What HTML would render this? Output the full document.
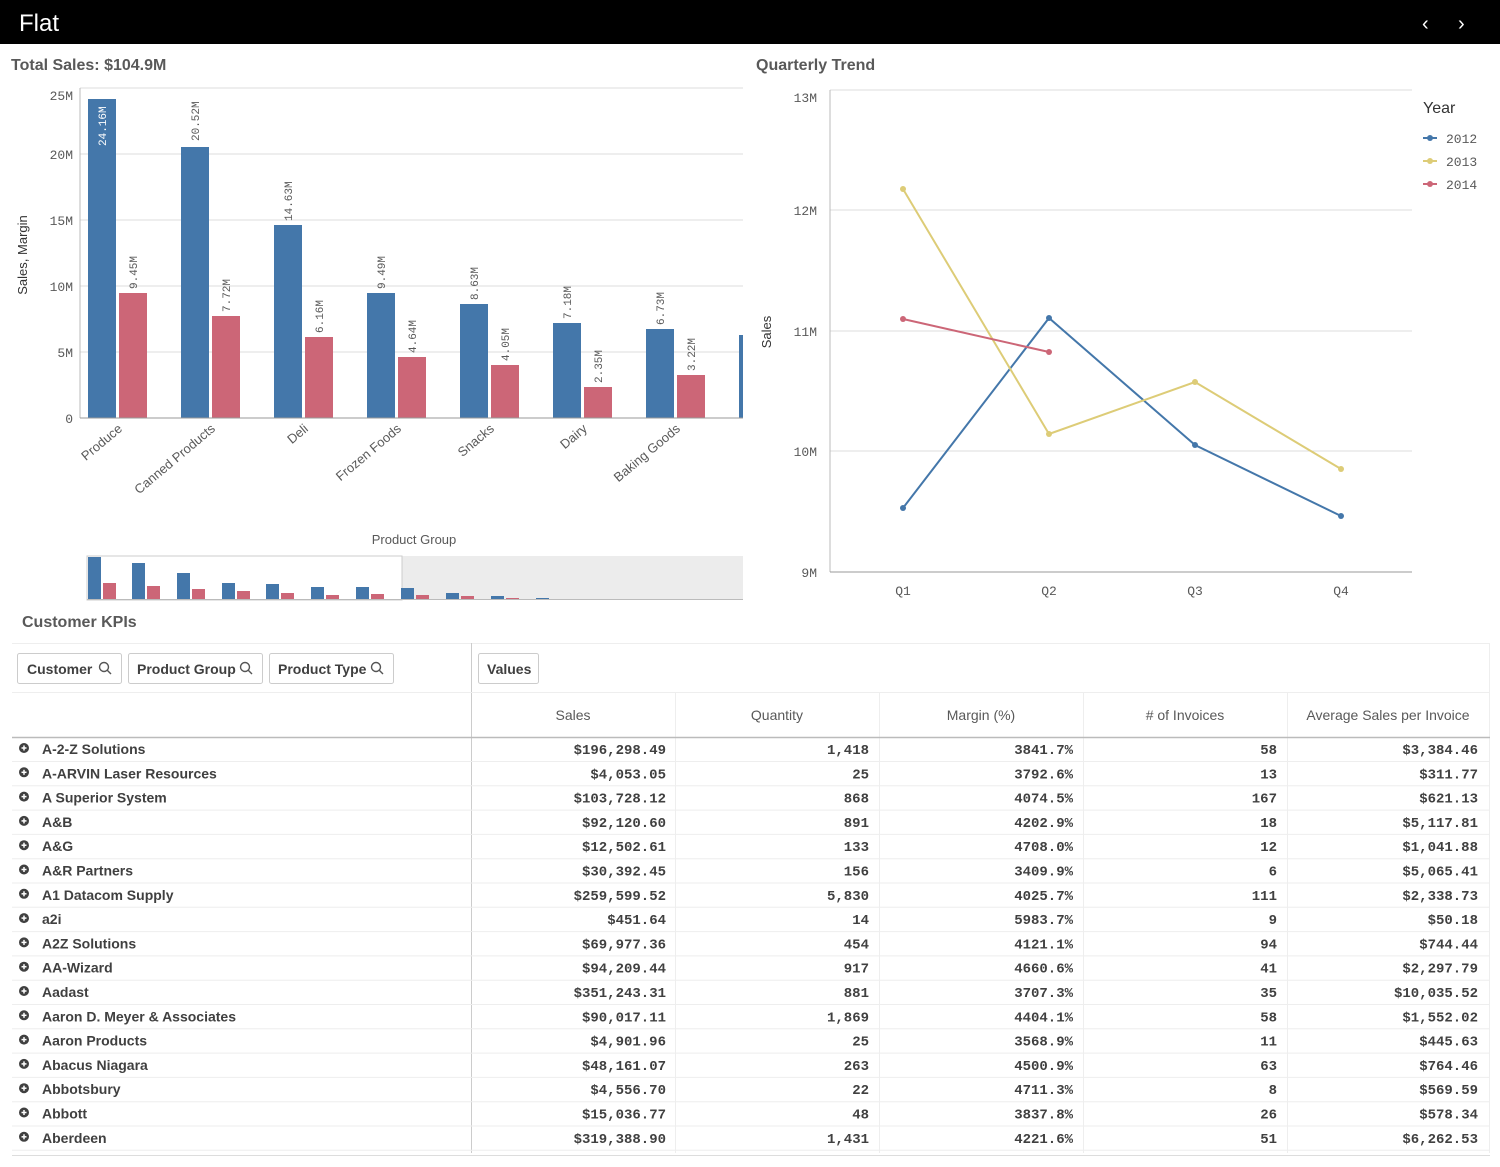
<!DOCTYPE html>
<html><head><meta charset="utf-8"><style>
html,body{margin:0;padding:0;background:#fff;width:1500px;height:1167px;overflow:hidden}
svg{display:block;font-family:"Liberation Sans",sans-serif}
.t{font-size:13px;fill:#595959}
.ax{font-family:"Liberation Mono",monospace;font-size:13px;fill:#595959}
.lbl{font-family:"Liberation Mono",monospace;font-size:11px;fill:#595959}
.r{font-size:14px;font-weight:bold;fill:#404040}
.n{font-family:"Liberation Mono",monospace;font-size:14px;font-weight:bold;fill:#404040}
.h{font-size:14px;fill:#595959}
</style></head><body>
<svg width="1500" height="1167" viewBox="0 0 1500 1167">
<rect x="0" y="0" width="1500" height="44" fill="#000"/>
<text x="19" y="31" font-size="24" fill="#fff">Flat</text>
<text x="1422" y="30" font-size="20" fill="#fff">‹</text>
<text x="1458" y="30" font-size="20" fill="#fff">›</text>
<rect x="0" y="44" width="1500" height="1123" fill="#fff"/>

<text x="11" y="70" font-size="16" font-weight="bold" fill="#595959">Total Sales: $104.9M</text>
<text x="756" y="70" font-size="16" font-weight="bold" fill="#595959">Quarterly Trend</text>

<!-- bar chart -->
<g stroke="#ddd" stroke-width="1">
<line x1="80" y1="88" x2="743" y2="88"/><line x1="80" y1="154" x2="743" y2="154"/>
<line x1="80" y1="220" x2="743" y2="220"/><line x1="80" y1="286" x2="743" y2="286"/>
<line x1="80" y1="352" x2="743" y2="352"/>
</g>
<line x1="80" y1="88" x2="80" y2="418" stroke="#bbb"/>
<g class="ax" text-anchor="end">
<text x="73" y="100">25M</text><text x="73" y="159">20M</text><text x="73" y="225">15M</text>
<text x="73" y="291">10M</text><text x="73" y="357">5M</text><text x="73" y="423">0</text>
</g>
<text transform="translate(27,255) rotate(-90)" text-anchor="middle" font-size="13" fill="#333">Sales, Margin</text>
<g fill="#4477aa">
<rect x="88" y="99" width="28" height="319"/><rect x="181" y="147" width="28" height="271"/>
<rect x="274" y="225" width="28" height="193"/><rect x="367" y="293" width="28" height="125"/>
<rect x="460" y="304" width="28" height="114"/><rect x="553" y="323" width="28" height="95"/>
<rect x="646" y="329" width="28" height="89"/><rect x="739" y="335" width="4" height="83"/>
</g>
<g fill="#cc6677">
<rect x="119" y="293" width="28" height="125"/><rect x="212" y="316" width="28" height="102"/>
<rect x="305" y="337" width="28" height="81"/><rect x="398" y="357" width="28" height="61"/>
<rect x="491" y="365" width="28" height="53"/><rect x="584" y="387" width="28" height="31"/>
<rect x="677" y="375" width="28" height="43"/>
</g>
<line x1="80" y1="418" x2="743" y2="418" stroke="#999"/>
<g class="lbl">
<text transform="translate(106,146) rotate(-90)" fill="#fff">24.16M</text>
<text transform="translate(199,141) rotate(-90)">20.52M</text>
<text transform="translate(137,289) rotate(-90)">9.45M</text>
<text transform="translate(230,312) rotate(-90)">7.72M</text>
<text transform="translate(292,221) rotate(-90)">14.63M</text>
<text transform="translate(323,333) rotate(-90)">6.16M</text>
<text transform="translate(385,289) rotate(-90)">9.49M</text>
<text transform="translate(416,353) rotate(-90)">4.64M</text>
<text transform="translate(478,300) rotate(-90)">8.63M</text>
<text transform="translate(509,361) rotate(-90)">4.05M</text>
<text transform="translate(571,319) rotate(-90)">7.18M</text>
<text transform="translate(602,383) rotate(-90)">2.35M</text>
<text transform="translate(664,325) rotate(-90)">6.73M</text>
<text transform="translate(695,371) rotate(-90)">3.22M</text>
</g>
<g class="t" text-anchor="end">
<text transform="translate(123,430) rotate(-40)">Produce</text>
<text transform="translate(216,430) rotate(-40)">Canned Products</text>
<text transform="translate(309,430) rotate(-40)">Deli</text>
<text transform="translate(402,430) rotate(-40)">Frozen Foods</text>
<text transform="translate(495,430) rotate(-40)">Snacks</text>
<text transform="translate(588,430) rotate(-40)">Dairy</text>
<text transform="translate(681,430) rotate(-40)">Baking Goods</text>
</g>
<text x="414" y="544" text-anchor="middle" class="t">Product Group</text>
<!-- mini chart -->
<rect x="402" y="556" width="341" height="44" fill="#ececec"/>
<rect x="87" y="556" width="315" height="44" fill="none" stroke="#ccc"/>
<g fill="#4477aa">
<rect x="88" y="557" width="13" height="42"/><rect x="132" y="563" width="13" height="36"/><rect x="177" y="573" width="13" height="26"/>
<rect x="222" y="583" width="13" height="16"/><rect x="266" y="584" width="13" height="15"/><rect x="311" y="587" width="13" height="12"/>
<rect x="356" y="587" width="13" height="12"/><rect x="401" y="588" width="13" height="11"/><rect x="446" y="593" width="13" height="6"/>
<rect x="491" y="596" width="13" height="3"/><rect x="536" y="598" width="13" height="1"/>
</g>
<g fill="#cc6677">
<rect x="103" y="583" width="13" height="16"/><rect x="147" y="586" width="13" height="13"/><rect x="192" y="589" width="13" height="10"/>
<rect x="237" y="591" width="13" height="8"/><rect x="281" y="593" width="13" height="6"/><rect x="326" y="595" width="13" height="4"/>
<rect x="371" y="594" width="13" height="5"/><rect x="416" y="595" width="13" height="4"/><rect x="461" y="596" width="13" height="3"/>
<rect x="506" y="598" width="13" height="1"/>
</g>
<line x1="87" y1="599.5" x2="743" y2="599.5" stroke="#bbb"/>

<!-- line chart -->
<g stroke="#ddd">
<line x1="830" y1="90" x2="1412" y2="90"/><line x1="830" y1="210" x2="1412" y2="210"/>
<line x1="830" y1="331" x2="1412" y2="331"/><line x1="830" y1="451" x2="1412" y2="451"/>
</g>
<line x1="830" y1="90" x2="830" y2="572" stroke="#bbb"/>
<line x1="830" y1="572" x2="1412" y2="572" stroke="#999"/>
<g class="ax" text-anchor="end">
<text x="817" y="102">13M</text><text x="817" y="215">12M</text><text x="817" y="336">11M</text>
<text x="817" y="456">10M</text><text x="817" y="577">9M</text>
</g>
<text transform="translate(771,332) rotate(-90)" text-anchor="middle" font-size="13" fill="#333">Sales</text>
<g class="ax" text-anchor="middle">
<text x="903" y="595">Q1</text><text x="1049" y="595">Q2</text><text x="1195" y="595">Q3</text><text x="1341" y="595">Q4</text>
</g>
<polyline points="903,508 1049,318 1195,445 1341,516" fill="none" stroke="#4477aa" stroke-width="2"/>
<polyline points="903,189 1049,434 1195,382 1341,469" fill="none" stroke="#ddcc77" stroke-width="2"/>
<polyline points="903,319 1049,352" fill="none" stroke="#cc6677" stroke-width="2"/>
<g fill="#4477aa"><circle cx="903" cy="508" r="3"/><circle cx="1049" cy="318" r="3"/><circle cx="1195" cy="445" r="3"/><circle cx="1341" cy="516" r="3"/></g>
<g fill="#ddcc77"><circle cx="903" cy="189" r="3"/><circle cx="1049" cy="434" r="3"/><circle cx="1195" cy="382" r="3"/><circle cx="1341" cy="469" r="3"/></g>
<g fill="#cc6677"><circle cx="903" cy="319" r="3"/><circle cx="1049" cy="352" r="3"/></g>
<text x="1423" y="113" font-size="16" fill="#333">Year</text>
<g class="ax">
<line x1="1423" y1="138" x2="1437" y2="138" stroke="#4477aa" stroke-width="2"/><circle cx="1430" cy="138" r="3" fill="#4477aa"/><text x="1446" y="143">2012</text>
<line x1="1423" y1="161" x2="1437" y2="161" stroke="#ddcc77" stroke-width="2"/><circle cx="1430" cy="161" r="3" fill="#ddcc77"/><text x="1446" y="166">2013</text>
<line x1="1423" y1="184" x2="1437" y2="184" stroke="#cc6677" stroke-width="2"/><circle cx="1430" cy="184" r="3" fill="#cc6677"/><text x="1446" y="189">2014</text>
</g>

<!-- table -->
<text x="22" y="627" font-size="16" font-weight="bold" fill="#595959">Customer KPIs</text>
<line x1="12" y1="643.5" x2="1490" y2="643.5" stroke="#eee"/>
<g fill="#fff" stroke="#ccc">
<rect x="17.5" y="653.5" width="104" height="30" rx="2"/>
<rect x="128.5" y="653.5" width="134" height="30" rx="2"/>
<rect x="269.5" y="653.5" width="124" height="30" rx="2"/>
<rect x="478.5" y="653.5" width="60" height="30" rx="2"/>
</g>
<g class="r">
<text x="27" y="674">Customer</text><text x="137" y="674">Product Group</text><text x="278" y="674">Product Type</text><text x="487" y="674">Values</text>
</g>
<g fill="none" stroke="#555" stroke-width="1.4">
<circle cx="104" cy="667" r="4.5"/><line x1="107" y1="670" x2="111" y2="674"/>
<circle cx="245" cy="667" r="4.5"/><line x1="248" y1="670" x2="252" y2="674"/>
<circle cx="376" cy="667" r="4.5"/><line x1="379" y1="670" x2="383" y2="674"/>
</g>
<line x1="471.5" y1="643" x2="471.5" y2="1157" stroke="#ccc"/>
<line x1="12" y1="692.5" x2="1490" y2="692.5" stroke="#eee"/>
<g stroke="#eee">
<line x1="675.5" y1="692" x2="675.5" y2="1157"/><line x1="879.5" y1="692" x2="879.5" y2="1157"/>
<line x1="1083.5" y1="692" x2="1083.5" y2="1157"/><line x1="1287.5" y1="692" x2="1287.5" y2="1157"/>
<line x1="1489.5" y1="643" x2="1489.5" y2="1157"/>
</g>
<g class="h" text-anchor="middle">
<text x="573" y="720">Sales</text><text x="777" y="720">Quantity</text><text x="981" y="720">Margin (%)</text>
<text x="1185" y="720">Line# of Invoices</text><text x="1388" y="720">Average Sales per Invoice</text>
</g>
<line x1="12" y1="737.5" x2="1490" y2="737.5" stroke="#bbb" stroke-width="1.5"/>
<g id="rows"></g>
<rect x="0" y="1153" width="1500" height="14" fill="#fff"/>
<line x1="12" y1="1155.5" x2="1490" y2="1155.5" stroke="#ddd"/>
</svg>
<script>
var d=[["A-2-Z Solutions","$196,298.49","1,418","3841.7%","58","$3,384.46"],
["A-ARVIN Laser Resources","$4,053.05","25","3792.6%","13","$311.77"],
["A Superior System","$103,728.12","868","4074.5%","167","$621.13"],
["A&B","$92,120.60","891","4202.9%","18","$5,117.81"],
["A&G","$12,502.61","133","4708.0%","12","$1,041.88"],
["A&R Partners","$30,392.45","156","3409.9%","6","$5,065.41"],
["A1 Datacom Supply","$259,599.52","5,830","4025.7%","111","$2,338.73"],
["a2i","$451.64","14","5983.7%","9","$50.18"],
["A2Z Solutions","$69,977.36","454","4121.1%","94","$744.44"],
["AA-Wizard","$94,209.44","917","4660.6%","41","$2,297.79"],
["Aadast","$351,243.31","881","3707.3%","35","$10,035.52"],
["Aaron D. Meyer & Associates","$90,017.11","1,869","4404.1%","58","$1,552.02"],
["Aaron Products","$4,901.96","25","3568.9%","11","$445.63"],
["Abacus Niagara","$48,161.07","263","4500.9%","63","$764.46"],
["Abbotsbury","$4,556.70","22","4711.3%","8","$569.59"],
["Abbott","$15,036.77","48","3837.8%","26","$578.34"],
["Aberdeen","$319,388.90","1,431","4221.6%","51","$6,262.53"],
["A1OTF","$1,234.56","10","4000.0%","5","$246.91"]];
var ns="http://www.w3.org/2000/svg",g=document.getElementById("rows"),xs=[666,869,1073,1277,1478];
function el(t,a,txt){var e=document.createElementNS(ns,t);for(var k in a)e.setAttribute(k,a[k]);if(txt!=null)e.textContent=txt;g.appendChild(e);}
d.forEach(function(r,i){var y=754+i*24.3,sy=761.5+i*24.3;
el("line",{x1:12,y1:sy,x2:1490,y2:sy,stroke:"#eee"});
el("circle",{cx:24,cy:y-6,r:5,fill:"#404040"});
el("line",{x1:21.5,y1:y-6,x2:26.5,y2:y-6,stroke:"#fff","stroke-width":1.5});
el("line",{x1:24,y1:y-8.5,x2:24,y2:y-3.5,stroke:"#fff","stroke-width":1.5});
el("text",{x:42,y:y,"class":"r"},r[0]);
for(var j=1;j<6;j++)el("text",{x:xs[j-1],y:y,"class":"n","text-anchor":"end"},r[j]);});
document.querySelector('text[x="1185"]').textContent="# of Invoices";
</script>
</body></html>
